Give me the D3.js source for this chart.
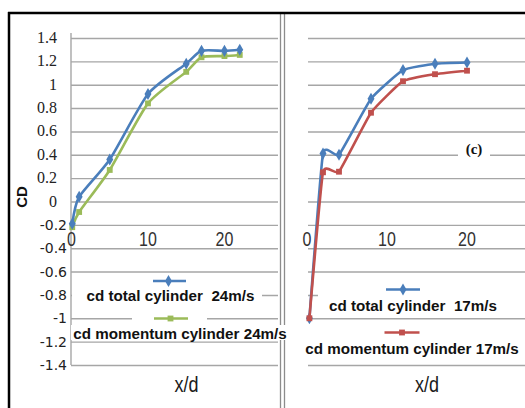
<!DOCTYPE html>
<html>
<head>
<meta charset="utf-8">
<script src="https://cdn.jsdelivr.net/npm/d3@7"></script>
<style>
  html, body { margin: 0; padding: 0; background: #fff; }
  svg { display: block; }
</style>
</head>
<body>
<svg id="chart" width="525" height="408"></svg>
<script>
// Drag coefficient CD along the wake (x/d) for two cylinder speeds
const yTicks = [1.4, 1.2, 1, 0.8, 0.6, 0.4, 0.2, 0, -0.2, -0.4, -0.6, -0.8, -1, -1.2, -1.4];
const xTicks = [0, 10, 20];

const xd24 = [0.1, 1, 5, 10, 15, 17, 20, 22];
const cdTotal24 = [-0.19, 0.04, 0.36, 0.92, 1.18, 1.29, 1.29, 1.30];
const cdMomentum24 = [-0.22, -0.09, 0.27, 0.84, 1.11, 1.235, 1.245, 1.255];

const xd17 = [0.3, 2, 4, 8, 12, 16, 20];
const cdTotal17 = [-1.0, 0.41, 0.40, 0.88, 1.125, 1.18, 1.19];
const cdMomentum17 = [-1.0, 0.25, 0.255, 0.76, 1.03, 1.09, 1.12];

const seriesNames = [
  "cd total cylinder  24m/s",
  "cd momentum cylinder 24m/s",
  "cd total cylinder  17m/s",
  "cd momentum cylinder 17m/s"
];

const BLUE = "#4a7ebb", GREEN = "#9bbb59", RED = "#c0504d";
const GRID = "#a6a6a6";

const svg = d3.select("#chart");

const y = d3.scaleLinear().domain([-1.4, 1.4]).range([365, 38]);
const xL = d3.scaleLinear().domain([0, 27]).range([71.5, 278]);
const xR = d3.scaleLinear().domain([0, 27.25]).range([307, 525]);

// horizontal gridlines for both panels
function grid(x0, x1) {
  const g = svg.append("g").attr("transform", `translate(${x0},0)`)
    .call(d3.axisLeft(y).tickValues(yTicks).tickFormat("")
      .tickSizeInner(-(x1 - x0)).tickSizeOuter(0));
  g.select(".domain").remove();
  g.selectAll(".tick line").attr("stroke", GRID).attr("stroke-width", 1.4);
  return g;
}
grid(71, 278);
grid(308, 525);

// left value axis
svg.append("line").attr("x1", 71).attr("x2", 71).attr("y1", 33).attr("y2", 365)
  .attr("stroke", GRID).attr("stroke-width", 1.4);

// y tick labels: positive values in serif, negative in sans
svg.append("g").selectAll("text")
  .data(yTicks)
  .join("text")
  .attr("x", d => d >= 0 ? 57 : 67)
  .attr("y", d => y(d) + 5)
  .attr("text-anchor", "end")
  .attr("font-family", d => d >= 0 ? "'Liberation Serif', 'Times New Roman', serif" : "'DejaVu Sans', sans-serif")
  .attr("font-size", d => d >= 0 ? 16 : 14)
  .attr("fill", "#222")
  .text(d => d);

// x tick labels, tall and narrow
function xLabels(xs) {
  svg.append("g").selectAll("text")
    .data(xTicks)
    .join("text")
    .attr("transform", d => `translate(${xs(d)},${246}) scale(1,1.3)`)
    .attr("text-anchor", "middle")
    .attr("font-family", "'Liberation Sans', Arial, sans-serif")
    .attr("font-size", 16)
    .attr("fill", "#333")
    .text(d => d);
}
xLabels(xL);
xLabels(xR);

// axis titles
[186.5, 427].forEach(cx => {
  svg.append("text")
    .attr("transform", `translate(${cx},392) scale(1,1.25)`)
    .attr("text-anchor", "middle")
    .attr("font-family", "'Liberation Sans', Arial, sans-serif")
    .attr("font-size", 18)
    .attr("fill", "#1a1a1a")
    .text("x/d");
});
svg.append("text")
  .attr("transform", "translate(27,197) rotate(-90)")
  .attr("text-anchor", "middle")
  .attr("font-family", "'Liberation Sans', Arial, sans-serif")
  .attr("font-weight", "bold")
  .attr("font-size", 15)
  .attr("fill", "#111")
  .text("CD");

// series lines and markers
const diamond = d3.symbol().type(d3.symbolDiamond).size(42);
const square = d3.symbol().type(d3.symbolSquare).size(34);

function series(xs, xv, yv, color, marker, curve) {
  const pts = xv.map((v, i) => [xs(v), y(yv[i])]);
  svg.append("path")
    .attr("d", d3.line().curve(curve)(pts))
    .attr("fill", "none")
    .attr("stroke", color)
    .attr("stroke-width", 2.6)
    .attr("stroke-linejoin", "round");
  svg.append("g").selectAll("path")
    .data(pts)
    .join("path")
    .attr("transform", d => `translate(${d[0]},${d[1]})`)
    .attr("d", marker)
    .attr("fill", color);
}
const smoothL = d3.curveCardinal.tension(0.35);
const smoothR = d3.curveCardinal.tension(0.6);
series(xL, xd24, cdMomentum24, GREEN, square, smoothL);
series(xL, xd24, cdTotal24, BLUE, diamond, smoothL);
series(xR, xd17, cdTotal17, BLUE, diamond, smoothR);
series(xR, xd17, cdMomentum17, RED, square, smoothR);

// panel divider (double line)
[280.5, 284.5].forEach(px => {
  svg.append("line").attr("x1", px).attr("x2", px).attr("y1", 13).attr("y2", 408)
    .attr("stroke", "#8c8c8c").attr("stroke-width", 1.3);
});

// legend backgrounds
const bg = [
  [72, 286, 190, 20],
  [132, 313, 75, 11],
  [71, 325, 219, 15],
  [318, 283, 207, 31],
  [300, 324, 225, 36],
  [458, 146, 32, 15]
];
svg.append("g").selectAll("rect")
  .data(bg)
  .join("rect")
  .attr("x", d => d[0]).attr("y", d => d[1])
  .attr("width", d => d[2]).attr("height", d => d[3])
  .attr("fill", "#fff");

// legend entries: sample line + marker + label
const legend = [
  { color: BLUE, marker: diamond, x1: 153, x2: 186, ly: 281, mx: 168.5, tx: 170.5, ty: 301, name: seriesNames[0] },
  { color: GREEN, marker: square, x1: 154, x2: 188, ly: 318.5, mx: 170.5, tx: 180, ty: 339, name: seriesNames[1] },
  { color: BLUE, marker: diamond, x1: 386, x2: 420, ly: 289.5, mx: 403, tx: 413, ty: 310.5, name: seriesNames[2] },
  { color: RED, marker: square, x1: 384.5, x2: 419.5, ly: 332.5, mx: 402, tx: 412, ty: 354, name: seriesNames[3] }
];
const lg = svg.append("g").selectAll("g").data(legend).join("g");
lg.append("line")
  .attr("x1", d => d.x1).attr("x2", d => d.x2)
  .attr("y1", d => d.ly).attr("y2", d => d.ly)
  .attr("stroke", d => d.color).attr("stroke-width", 2.6);
lg.append("path")
  .attr("transform", d => `translate(${d.mx},${d.ly})`)
  .attr("d", d => d.marker())
  .attr("fill", d => d.color);
lg.append("text")
  .attr("x", d => d.tx).attr("y", d => d.ty)
  .attr("text-anchor", "middle")
  .attr("font-family", "'Liberation Sans', Arial, sans-serif")
  .attr("font-weight", "bold")
  .attr("font-size", 15.2)
  .attr("fill", "#111")
  .style("white-space", "pre")
  .text(d => d.name);

// panel tag
svg.append("text")
  .attr("x", 474).attr("y", 154)
  .attr("text-anchor", "middle")
  .attr("font-family", "'Liberation Serif', 'Times New Roman', serif")
  .attr("font-weight", "bold")
  .attr("font-size", 15)
  .attr("fill", "#111")
  .text("(c)");

// outer frame
svg.append("line").attr("x1", 8).attr("x2", 525).attr("y1", 13).attr("y2", 13)
  .attr("stroke", "#000").attr("stroke-width", 2.5);
svg.append("line").attr("x1", 9).attr("x2", 9).attr("y1", 12).attr("y2", 408)
  .attr("stroke", "#000").attr("stroke-width", 2.5);
</script>
</body>
</html>
